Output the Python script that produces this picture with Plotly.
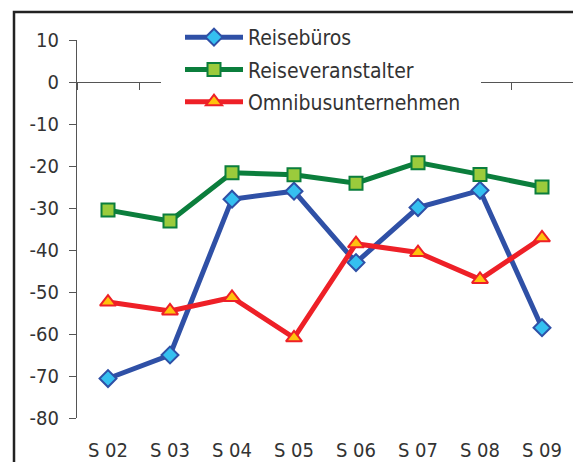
import plotly.graph_objects as go

FONT_FAMILY = "Liberation Sans Narrow, DejaVu Sans Condensed, Arial Narrow, sans-serif"
TEXT_COLOR = "#333333"
AXIS_COLOR = "#555555"

# the page body has an 8px margin, so the figure starts at (8, 8) on screen
PAGE_OFFSET = 8
W, H = 581 - PAGE_OFFSET, 462 - PAGE_OFFSET
# plot area on screen: x 77..573, y 40..418
PLOT_LEFT, PLOT_RIGHT, PLOT_TOP, PLOT_BOTTOM = 77, 573, 40, 418
MARGIN = dict(l=PLOT_LEFT - PAGE_OFFSET, r=W + PAGE_OFFSET - PLOT_RIGHT,
              t=PLOT_TOP - PAGE_OFFSET, b=H + PAGE_OFFSET - PLOT_BOTTOM,
              autoexpand=False)

categories = ["S 02", "S 03", "S 04", "S 05", "S 06", "S 07", "S 08", "S 09"]
reisebueros = [-70.6, -65.0, -27.9, -26.0, -43.0, -29.9, -25.8, -58.5]
reiseveranstalter = [-30.5, -33.1, -21.6, -22.1, -24.1, -19.2, -22.0, -25.0]
omnibus = [-52.4, -54.5, -51.3, -60.9, -38.5, -40.6, -47.0, -37.1]
y_ticks = [10, 0, -10, -20, -30, -40, -50, -60, -70, -80]
y_tick_labels = [str(v) for v in y_ticks]  # plain hyphen, not the unicode minus

Y_RANGE = [-80, 10]

series = [
    ("Reisebüros", reisebueros, "#2F50A6", "diamond", "#35C0F0", "#2F50A6"),
    ("Reiseveranstalter", reiseveranstalter, "#0B7E3C", "square", "#9BCB3C", "#0B7E3C"),
    ("Omnibusunternehmen", omnibus, "#EE2027", "triangle-up", "#FFC20E", "#EE2027"),
]

fig = go.Figure()
for name, values, line_color, symbol, fill, outline in series:
    fig.add_trace(go.Scatter(
        x=categories, y=values, name=name, mode="lines+markers",
        legendgroup=name,
        line=dict(color=line_color, width=5),
        marker=dict(symbol=symbol, size=14 if symbol == "triangle-up" else 13,
                    color=fill, line=dict(color=outline, width=2)),
    ))

# dummy trace so the axis drawn at y=0 has its categories
fig.add_trace(go.Scatter(x=categories, y=[0] * len(categories), xaxis="x2",
                         mode="lines", line=dict(width=0), opacity=0,
                         showlegend=False, hoverinfo="skip"))

plot_w = PLOT_RIGHT - PLOT_LEFT
plot_h = PLOT_BOTTOM - PLOT_TOP
zero_pos = (0 - Y_RANGE[0]) / (Y_RANGE[1] - Y_RANGE[0])

def px_to_paper_x(px):
    return (px - PLOT_LEFT) / plot_w

def px_to_paper_y(py):
    return (PLOT_BOTTOM - py) / plot_h

fig.update_layout(
    width=W, height=H,
    margin=MARGIN,
    plot_bgcolor="white", paper_bgcolor="white",
    font=dict(family=FONT_FAMILY, size=20, color=TEXT_COLOR),
    showlegend=True,
    legend=dict(
        x=px_to_paper_x(180), y=px_to_paper_y(17), xanchor="left", yanchor="top",
        bgcolor="white", font=dict(size=21, color=TEXT_COLOR),
        traceorder="grouped", tracegroupgap=2, itemwidth=58,
    ),
    xaxis=dict(
        type="category", categoryarray=categories, range=[-0.5, 7.5],
        showline=False, ticks="", showgrid=False, zeroline=False,
        ticklabelstandoff=18, tickfont=dict(size=20, color=TEXT_COLOR),
    ),
    xaxis2=dict(
        type="category", categoryarray=categories, range=[-0.5, 7.5],
        overlaying="x", anchor="free", position=zero_pos,
        showline=True, linecolor=AXIS_COLOR, linewidth=1,
        ticks="outside", tickson="boundaries", ticklen=7, tickcolor=AXIS_COLOR,
        showticklabels=False, showgrid=False, zeroline=False,
    ),
    yaxis=dict(
        range=Y_RANGE, tickvals=y_ticks, ticktext=y_tick_labels,
        showgrid=False, zeroline=False,
        showline=True, linecolor=AXIS_COLOR, linewidth=1,
        ticks="outside", ticklen=7, tickcolor=AXIS_COLOR,
        ticklabelstandoff=6, tickfont=dict(size=20, color=TEXT_COLOR),
    ),
    shapes=[
        dict(type="rect", xref="paper", yref="paper",
             x0=px_to_paper_x(14), y0=px_to_paper_y(480),
             x1=px_to_paper_x(600), y1=px_to_paper_y(12),
             line=dict(color="#222222", width=2.5), layer="below"),
        # white box behind the legend hides the zero axis there
        dict(type="rect", xref="paper", yref="paper",
             x0=px_to_paper_x(161), y0=px_to_paper_y(95),
             x1=px_to_paper_x(481), y1=px_to_paper_y(70),
             line=dict(width=0), fillcolor="white", layer="above"),
    ],
)

fig.write_html("out.html")
